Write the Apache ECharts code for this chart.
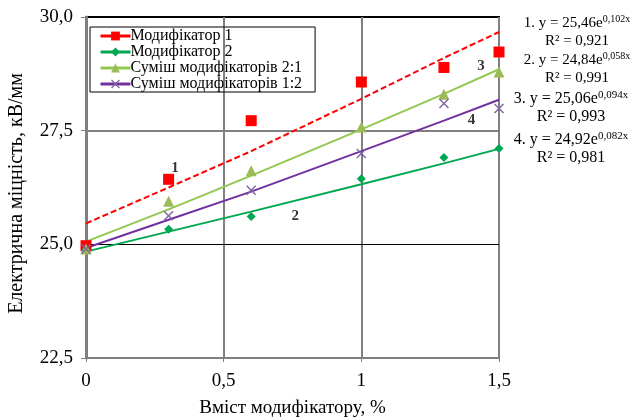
<!DOCTYPE html>
<html><head><meta charset="utf-8">
<script src="https://cdn.jsdelivr.net/npm/echarts@6/dist/echarts.min.js"></script>
<style>html,body{margin:0;padding:0;background:#fff}#c{width:632px;height:417px}</style>
</head><body><div id="c"></div>
<script>
const xValues = [0, 0.3, 0.6, 1.0, 1.3, 1.5];
const seriesNames = ['Модифікатор 1', 'Модифікатор 2', 'Суміш модифікаторів 2:1', 'Суміш модифікаторів 1:2'];
const mod1 = [24.97, 26.43, 27.72, 28.57, 28.89, 29.23];
const mod2 = [24.88, 25.33, 25.61, 26.44, 26.91, 27.11];
const mix21 = [24.9, 25.95, 26.62, 27.58, 28.30, 28.79];
const mix12 = [24.9, 25.63, 26.19, 27.0, 28.1, 27.99];
// trend lines at the same x positions
const trend1 = [25.46, 26.25, 27.05, 28.2, 29.1, 29.67];
const trend2 = [24.84, 25.28, 25.72, 26.32, 26.78, 27.10];
const trend3 = [25.06, 25.77, 26.51, 27.53, 28.31, 28.85];
const trend4 = [24.92, 25.54, 26.16, 27.05, 27.72, 28.18];
const trendLabels = [['1', 0.323, 26.68], ['2', 0.76, 25.62], ['3', 1.435, 28.92], ['4', 1.40, 27.73]];
const equations = [
  ['1. y = 25,46e', '0,102x', 'R² = 0,921'],
  ['2. y = 24,84e', '0,058x', 'R² = 0,991'],
  ['3. y = 25,06e', '0,094x', 'R² = 0,993'],
  ['4. y = 24,92e', '0,082x', 'R² = 0,981']
];
const yTicks = ['22,5', '25,0', '27,5', '30,0'];

const FONT = '"Liberation Serif", "Times New Roman", serif';
const pairs = a => a.map((v, i) => [xValues[i], v]);
const xPath = 'path://M0,1L1,0L5,4L9,0L10,1L6,5L10,9L9,10L5,6L1,10L0,9L4,5Z';

const colors = ['#ff0000', '#00a650', '#92c84f', '#7030a0'];
const markerColors = ['#ff0000', '#00a650', '#9bbb59', '#8064a2'];
const symbols = ['rect', 'diamond', 'triangle', xPath];
const symSizes = [11, 9, 11, 10];
const dataArr = [mod1, mod2, mix21, mix12];
const trendArr = [trend1, trend2, trend3, trend4];

const series = [];
trendArr.forEach((t, i) => {
  series.push({
    type: 'line', name: 'trend' + i, data: pairs(t), showSymbol: false, symbol: 'none',
    lineStyle: { color: colors[i], width: 2, type: i === 0 ? [6, 3] : 'solid' },
    z: 3, silent: true, clip: false,
    markLine: i === 0 ? {
      silent: true, symbol: 'none', label: { show: false },
      lineStyle: { color: '#000', width: 1, type: 'solid' },
      data: [{ yAxis: 25 }], z: 1
    } : undefined
  });
});
dataArr.forEach((d, i) => {
  series.push({
    type: 'line', name: seriesNames[i], data: pairs(d),
    symbol: symbols[i], symbolSize: symSizes[i], showSymbol: true,
    itemStyle: { color: markerColors[i] },
    color: colors[i],
    lineStyle: { width: 0, opacity: 0, color: colors[i] },
    z: 4, clip: false
  });
});
series.push({
  type: 'scatter', name: 'labels', symbolSize: 0, silent: true,
  data: trendLabels.map(l => ({ value: [l[1], l[2]], name: l[0] })),
  label: { show: true, position: 'inside', formatter: p => p.name, fontFamily: FONT, fontSize: 15, fontWeight: 'bold', color: '#000' },
  z: 6
});

const graphic = [];
const eqY = [23, 60, 99, 140];
const eqX = [577, 577, 571, 571];
const eqFs = [15, 15, 16, 16];
equations.forEach((e, i) => {
  graphic.push({
    type: 'text', x: eqX[i], y: eqY[i],
    style: {
      text: '{m|' + e[0] + '}{s|' + e[1] + '}',
      align: 'center', verticalAlign: 'middle',
      rich: {
        m: { fontFamily: FONT, fontSize: eqFs[i], fill: '#000', lineHeight: 18 },
        s: { fontFamily: FONT, fontSize: eqFs[i] - 5, fill: '#000', verticalAlign: 'top', lineHeight: 18, padding: [0, 0, 6, 0] }
      }
    }
  });
  graphic.push({
    type: 'text', x: eqX[i], y: eqY[i] + 18,
    style: { text: e[2], align: 'center', verticalAlign: 'middle', font: eqFs[i] + 'px ' + FONT, fill: '#000' }
  });
});

const chart = echarts.init(document.getElementById('c'), null, { renderer: 'canvas' });
chart.setOption({
  animation: false,
  backgroundColor: '#fff',
  grid: { left: 86, right: 133, top: 17, bottom: 59, show: true, borderColor: '#000', borderWidth: 2, backgroundColor: 'transparent', outerBoundsMode: 'none', containLabel: false },
  legend: {
    data: seriesNames, orient: 'vertical', left: 90, top: 27,
    borderColor: '#000', borderWidth: 1, padding: [1, 13, 0, 9], itemGap: 0,
    itemWidth: 30, itemHeight: 11,
    lineStyle: { width: 3, opacity: 1 },
    textStyle: { fontFamily: FONT, fontSize: 16, color: '#000', lineHeight: 16, padding: [0, 0, 0, -5] }
  },
  xAxis: {
    type: 'value', min: 0, max: 1.5, interval: 0.5,
    name: 'Вміст модифікатору, %', nameLocation: 'middle', nameGap: 41,
    nameTextStyle: { fontFamily: FONT, fontSize: 19, color: '#000' },
    axisLine: { show: true, onZero: false, lineStyle: { color: '#808080', width: 2 } },
    axisTick: { show: true, length: 4, lineStyle: { color: '#808080' } },
    axisLabel: { fontFamily: FONT, fontSize: 19, color: '#000', margin: 14, formatter: v => String(v).replace('.', ',') },
    splitLine: { show: true, lineStyle: { color: '#808080', width: 2 } }
  },
  yAxis: {
    type: 'value', min: 22.5, max: 30, interval: 2.5,
    name: 'Електрична міцність, кВ/мм', nameLocation: 'middle', nameGap: 59,
    nameTextStyle: { fontFamily: FONT, fontSize: 20, color: '#000', padding: [0, 12, 0, 0] },
    axisLine: { show: true, lineStyle: { color: '#808080', width: 3 } },
    axisTick: { show: true, length: 5, lineStyle: { color: '#808080' } },
    axisLabel: { fontFamily: FONT, fontSize: 19, color: '#000', margin: 13, formatter: (v, i) => yTicks[i] },
    splitLine: { show: true, lineStyle: { color: ['#808080', 'transparent', '#808080', '#000'], width: 2 } }
  },
  series: series,
  graphic: graphic
});
</script></body></html>
